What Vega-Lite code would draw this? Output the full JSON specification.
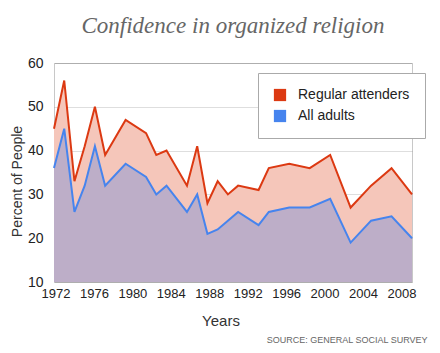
{
  "$schema": "https://vega.github.io/schema/vega-lite/v6.json",
  "width": 358,
  "height": 219,
  "autosize": {"type": "none"},
  "padding": {"left": 54, "top": 63, "right": 28, "bottom": 71},
  "background": "white",
  "title": {
    "text": "Confidence in organized religion",
    "font": "Liberation Serif",
    "fontStyle": "italic",
    "fontWeight": "normal",
    "fontSize": 23,
    "color": "#666666",
    "anchor": "middle",
    "baseline": "alphabetic",
    "offset": 0
  },
  "config": {
    "font": "Liberation Sans",
    "view": {"stroke": "#c8c8c8"},
    "axisY": {
      "grid": true,
      "gridColor": "#000000",
      "gridOpacity": 0.13,
      "zindex": 1,
      "values": [10, 20, 30, 40, 50, 60],
      "ticks": false,
      "domain": false,
      "labelPadding": 11,
      "labelFontSize": 14,
      "labelColor": "#222222",
      "titleFontSize": 14,
      "titleFontWeight": "normal",
      "titleColor": "#333333",
      "titleX": -36.5,
      "titleY": 118,
      "titleAngle": -90,
      "titleBaseline": "middle",
      "titleAlign": "center"
    }
  },
  "data": {
    "values": [
      {"year": 1973, "regular": 45, "all": 36},
      {"year": 1974, "regular": 56, "all": 45},
      {"year": 1975, "regular": 33, "all": 26},
      {"year": 1976, "regular": 41, "all": 32},
      {"year": 1977, "regular": 50, "all": 41},
      {"year": 1978, "regular": 39, "all": 32},
      {"year": 1980, "regular": 47, "all": 37},
      {"year": 1982, "regular": 44, "all": 34},
      {"year": 1983, "regular": 39, "all": 30},
      {"year": 1984, "regular": 40, "all": 32},
      {"year": 1986, "regular": 32, "all": 26},
      {"year": 1987, "regular": 41, "all": 30},
      {"year": 1988, "regular": 28, "all": 21},
      {"year": 1989, "regular": 33, "all": 22},
      {"year": 1990, "regular": 30, "all": 24},
      {"year": 1991, "regular": 32, "all": 26},
      {"year": 1993, "regular": 31, "all": 23},
      {"year": 1994, "regular": 36, "all": 26},
      {"year": 1996, "regular": 37, "all": 27},
      {"year": 1998, "regular": 36, "all": 27},
      {"year": 2000, "regular": 39, "all": 29},
      {"year": 2002, "regular": 27, "all": 19},
      {"year": 2004, "regular": 32, "all": 24},
      {"year": 2006, "regular": 36, "all": 25},
      {"year": 2008, "regular": 30, "all": 20}
    ]
  },
  "layer": [
    {
      "mark": {"type": "area", "color": "#f5c6ba", "opacity": 1},
      "encoding": {
        "x": {
          "field": "year",
          "type": "quantitative",
          "scale": {"domain": [1973, 2008], "nice": false, "zero": false},
          "axis": {
            "title": "Years",
            "values": [1973.147, 1976.905, 1980.663, 1984.421, 1988.179, 1991.937, 1995.695, 1999.453, 2003.211, 2006.969],
            "labelExpr": "format(1972 + 4 * round((datum.value - 1973.147) / 3.758), 'd')",
            "labelFlush": false,
            "labelOverlap": false,
            "ticks": false,
            "domain": false,
            "grid": false,
            "labelPadding": 5,
            "labelFontSize": 13,
            "labelColor": "#222222",
            "titleFontSize": 15,
            "titleFontWeight": "normal",
            "titleColor": "#333333",
            "titleX": 166.5,
            "titleY": 38,
            "titleBaseline": "middle",
            "titleAlign": "center"
          }
        },
        "y": {
          "field": "regular",
          "type": "quantitative",
          "title": "Percent of People",
          "scale": {"domain": [10, 60], "nice": false, "zero": false}
        },
        "y2": {"datum": 10}
      }
    },
    {
      "mark": {"type": "area", "color": "#bdaec8", "opacity": 1},
      "encoding": {
        "x": {"field": "year", "type": "quantitative", "axis": null},
        "y": {"field": "all", "type": "quantitative", "title": "Percent of People"},
        "y2": {"datum": 10}
      }
    },
    {
      "mark": {"type": "line", "strokeWidth": 2},
      "encoding": {
        "x": {"field": "year", "type": "quantitative", "axis": null},
        "y": {"field": "regular", "type": "quantitative", "title": "Percent of People"},
        "color": {
          "datum": "Regular attenders",
          "scale": {"domain": ["Regular attenders", "All adults"], "range": ["#dc3912", "#4684ee"]},
          "legend": {
            "orient": "none",
            "legendX": 204,
            "legendY": 10,
            "direction": "vertical",
            "title": null,
            "symbolType": "square",
            "symbolSize": 150,
            "labelFontSize": 14,
            "labelColor": "#222222",
            "labelOffset": 11,
            "rowPadding": 7,
            "padding": 15,
            "fillColor": "white",
            "strokeColor": "#aaaaaa",
            "encode": {
              "symbols": {
                "update": {
                  "fill": {"scale": "color", "field": "value"},
                  "fillOpacity": {"value": 1},
                  "strokeWidth": {"value": 0}
                }
              }
            }
          }
        }
      }
    },
    {
      "mark": {"type": "line", "strokeWidth": 2},
      "encoding": {
        "x": {
          "field": "year",
          "type": "quantitative",
          "axis": {
            "orient": "bottom",
            "title": "SOURCE: GENERAL SOCIAL SURVEY",
            "labels": false,
            "ticks": false,
            "domain": false,
            "grid": false,
            "titleFont": "Liberation Sans",
            "titleFontSize": 9,
            "titleFontWeight": "normal",
            "titleColor": "#666666",
            "titleX": 373,
            "titleY": 57,
            "titleAlign": "right",
            "titleBaseline": "middle"
          }
        },
        "y": {"field": "all", "type": "quantitative", "title": "Percent of People"},
        "color": {"datum": "All adults"}
      }
    }
  ],
  "resolve": {"axis": {"x": "independent"}}
}
